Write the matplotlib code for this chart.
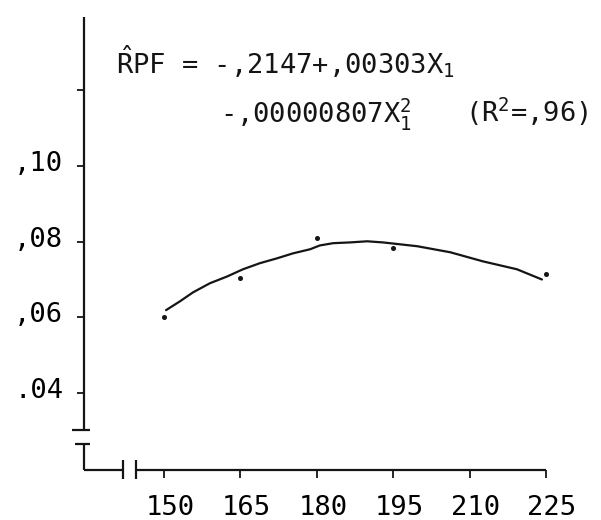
import matplotlib
matplotlib.use("Agg")
import matplotlib.pyplot as plt
from matplotlib.transforms import ScaledTranslation

# observed RPF values per X1 level
x_obs = [150, 165, 180, 195, 225]
rpf_obs = [0.0600, 0.0703, 0.0809, 0.0783, 0.0714]

# fitted quadratic
x_fit = [150.4, 153.1, 155.7, 159.0, 162.4, 165.5, 168.8, 172.2, 175.3, 178.7,
         180.6, 183.2, 186.5, 189.9, 193.0, 199.7, 206.2, 212.6, 219.3, 224.2]
rpf_fit = [0.0619, 0.0642, 0.0666, 0.0690, 0.0708, 0.0727, 0.0743, 0.0756, 0.0769, 0.0780,
           0.0790, 0.0796, 0.0798, 0.0801, 0.0798, 0.0788, 0.0772, 0.0748, 0.0727, 0.0700]

x_ticks = [150, 165, 180, 195, 210, 225]
y_ticks = [0.04, 0.06, 0.08, 0.10, 0.12]
y_labels = [".04", ",06", ",08", ",10", ""]

INK = "#151515"
FONT = "DejaVu Sans Mono"

plt.rcParams.update({
    "font.family": [FONT, "Liberation Mono"],
    "font.size": 19.5,
    "mathtext.fontset": "custom",
    "mathtext.rm": FONT,
    "mathtext.it": FONT,
    "text.color": INK,
})

fig = plt.figure(figsize=(6.01, 5.2), dpi=100)
ax = fig.add_axes([0.1398, 0.0962, 0.7687, 0.8712])
ax.set_xlim(134.3, 225)
ax.set_ylim(0.01965, 0.1394)

for side in ("left", "right", "top", "bottom"):
    ax.spines[side].set_visible(False)

ax.plot(x_fit, rpf_fit, color=INK, lw=1.6, solid_capstyle="round", solid_joinstyle="round")
ax.plot(x_obs, rpf_obs, "o", color=INK, ms=2.6, clip_on=False)

ax.set_xticks(x_ticks)
ax.set_xticklabels([str(v) for v in x_ticks])
ax.set_yticks(y_ticks)
ax.set_yticklabels(y_labels)
ax.tick_params(axis="x", direction="out", length=5.8, width=1.3, color=INK, pad=12)
ax.tick_params(axis="y", direction="out", length=5.0, width=1.3, color=INK, pad=10)

# typewritten labels sit a little right of / above their ticks
for lab in ax.get_xticklabels():
    lab.set_transform(lab.get_transform() + ScaledTranslation(6 / 100, 0, fig.dpi_scale_trans))
for lab in ax.get_yticklabels():
    lab.set_transform(lab.get_transform() + ScaledTranslation(0, 5 / 100, fig.dpi_scale_trans))

# hand-drawn axes with break marks (axes-fraction coordinates)
kw = dict(transform=ax.transAxes, color=INK, lw=1.6, clip_on=False, solid_capstyle="butt")
ax.plot([0, 0], [0.0883, 1.0], **kw)
ax.plot([-0.026, 0.013], [0.0883, 0.0883], **kw)
ax.plot([-0.0195, 0.013], [0.0574, 0.0574], **kw)
ax.plot([0, 0], [0.0574, 0.0], **kw)
ax.plot([0, 0.082], [0, 0], **kw)
ax.plot([0.0844, 0.0844], [0.022, -0.02], **kw)
ax.plot([0.1126, 0.1126], [0.022, -0.02], **kw)
ax.plot([0.1126, 1.0], [0, 0], **kw)

# regression equation
fig.text(116 / 601, 1 - 73 / 520, r"$\hat{\mathrm{R}}$PF = -,2147+,00303X$_{1}$",
         ha="left", va="baseline")
fig.text(220 / 601, 1 - 122 / 520, r"-,00000807X$_{1}^{2}$",
         ha="left", va="baseline")
fig.text(465 / 601, 1 - 122 / 520, r"(R$^{2}$=,96)",
         ha="left", va="baseline")

fig.savefig("out.png", dpi=100, facecolor="white")
